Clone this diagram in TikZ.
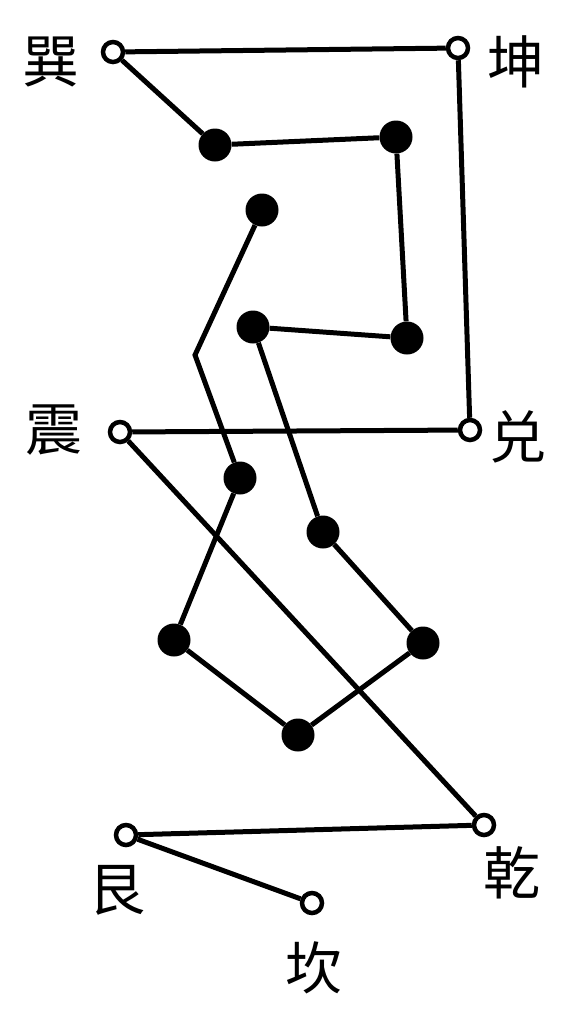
\documentclass[tikz,border=0pt]{standalone}
\usepackage{fontspec}
\newfontfamily\cjk{Noto Sans CJK SC}
\tikzset{
  yang/.style={circle,draw,fill=white,line width=4.5pt,inner sep=0pt,minimum size=20pt},
  yin/.style={circle,fill,inner sep=0pt,minimum size=33pt},
  gua/.style={font=\cjk\fontsize{57}{57}\selectfont,inner sep=0pt},
  link/.style={line width=5pt}
}
\begin{document}
\begin{tikzpicture}[x=1pt,y=-1pt]
      \useasboundingbox (0,0) rectangle (569,1013);

      % open circles
      \node[yang] (xun)  at (113,52)  {};
      \node[yang] (kun)  at (458,48)  {};
      \node[yang] (zhen) at (120,432) {};
      \node[yang] (dui)  at (470,430) {};
      \node[yang] (qian) at (484,825) {};
      \node[yang] (gen)  at (126,835) {};
      \node[yang] (kan)  at (312,903) {};

      % filled dots
      \node[yin] (a) at (215,145) {};
      \node[yin] (b) at (396,137) {};
      \node[yin] (c) at (262,210) {};
      \node[yin] (d) at (253,327) {};
      \node[yin] (e) at (407,338) {};
      \node[yin] (f) at (240,478) {};
      \node[yin] (g) at (323,532) {};
      \node[yin] (h) at (174,640) {};
      \node[yin] (i) at (423,643) {};
      \node[yin] (j) at (298,735) {};
      \coordinate (bend) at (195,355);

      \draw[link] (xun) -- (kun) (xun) -- (a) -- (b) -- (e) -- (d) -- (g) -- (i) -- (j) -- (h) -- (f) -- (bend) -- (c);
      \draw[link] (kun) -- (dui) -- (zhen) -- (qian) -- (gen) -- (kan);

      \node[gua] (lxun)  at (51,62)   {巽};
      \node[gua] (lkun)  at (516,62)  {坤};
      \node[gua] (lzhen) at (54,430)  {震};
      \node[gua] (ldui)  at (518,437) {兑};
      \node[gua] (lgen)  at (117,890) {艮};
      \node[gua] (lqian) at (512,873) {乾};
      \node[gua] (lkan)  at (314,968) {坎};

\end{tikzpicture}
\end{document}
